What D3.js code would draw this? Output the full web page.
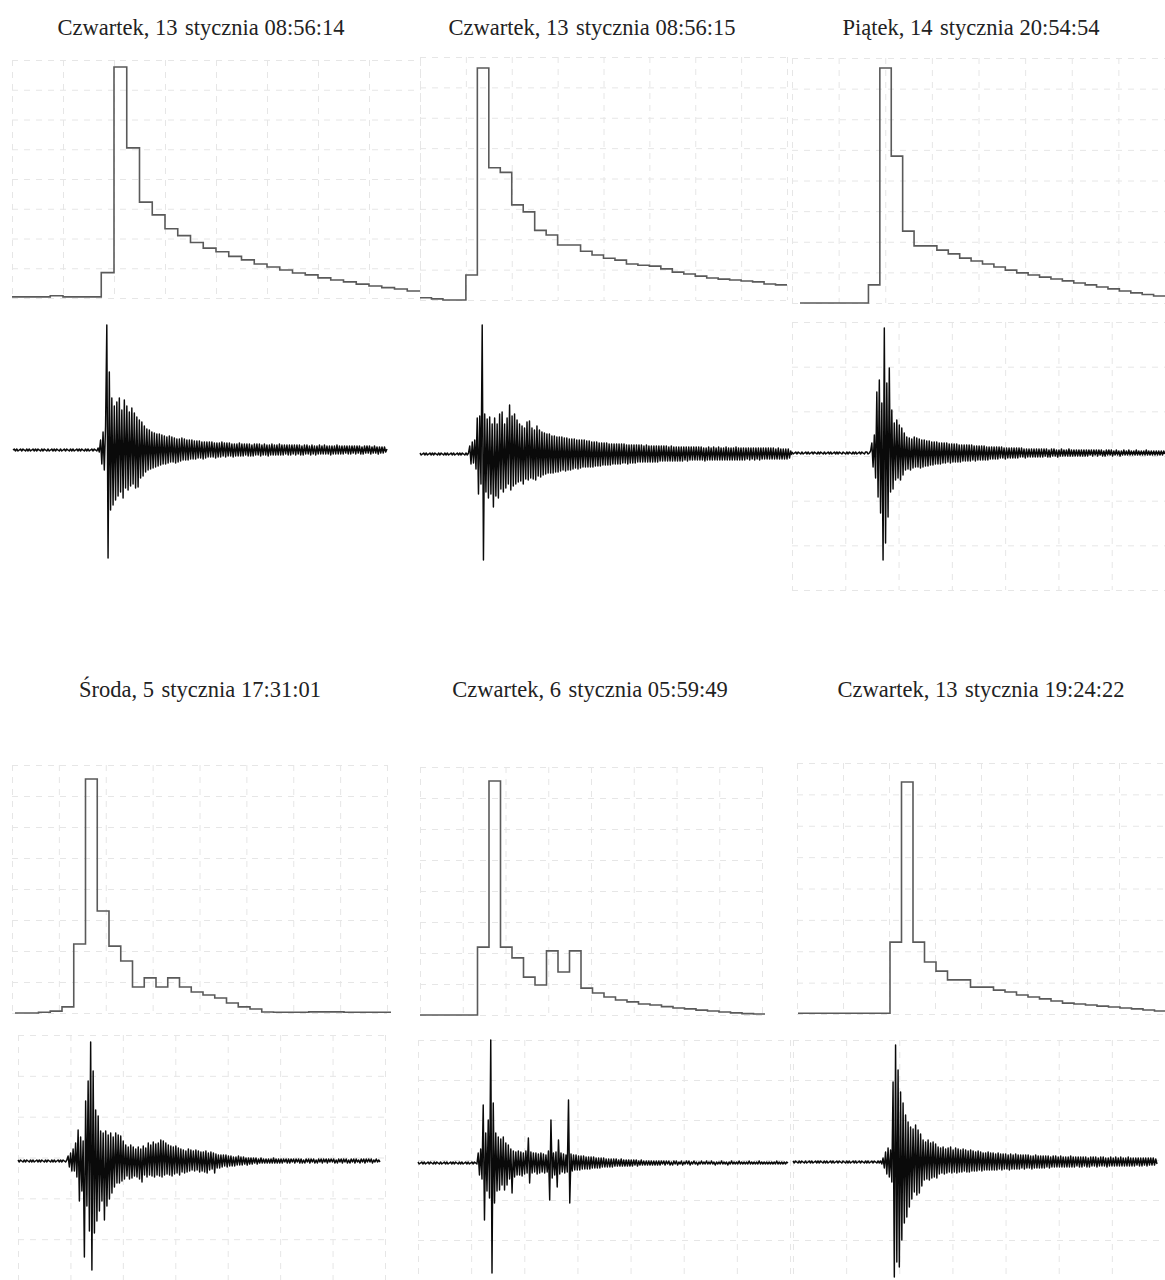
<!DOCTYPE html>
<html>
<head>
<meta charset="utf-8">
<script src="https://cdn.jsdelivr.net/npm/d3@7"></script>
<style>
  body { margin: 0; background: #fff; }
  svg { display: block; }
</style>
</head>
<body>
<div id="chart"></div>
<script>
// event titles
const titles = [
    "Czwartek, 13\u00a0\u200astycznia 08:56:14",
    "Czwartek, 13\u00a0\u200astycznia 08:56:15",
    "Piątek, 14\u00a0\u200astycznia 20:54:54",
    "Środa, 5\u00a0\u200astycznia 17:31:01",
    "Czwartek, 6\u00a0\u200astycznia 05:59:49",
    "Czwartek, 13\u00a0\u200astycznia 19:24:22"
];

// energy per time bin (peak = 100)
const hist1 = [0.5, 0.5, 0.5, 1, 0.5, 0.5, 0.5, 11, 100, 65, 41.5, 36, 30, 27, 24, 21.6,
    20, 18, 16.5, 14.7, 13.4, 12.1, 10.8, 10, 8.7, 7.8, 7, 6, 5.2, 4.5, 3.9, 3];
const hist2 = [1, 0.5, 0, 0, 10.8, 100, 57, 55, 41, 38, 30, 28, 23.7, 23.7, 21, 19.4,
    18, 17.2, 15.5, 15, 14.6, 13.4, 12, 11.2, 10.3, 9.5, 9, 8.6, 8.2, 7.8, 6.9, 6.5];
const hist3 = [0, 0, 0, 0, 0, 0, 7.7, 100, 62.5, 30.6, 24.3, 24.3, 22.5, 20.9, 19.1, 17.9,
    16.6, 15.3, 14, 12.8, 11.9, 11, 10.2, 9.4, 8.5, 7.7, 6.8, 6, 5.1, 4.3, 3.6, 3];
const hist4 = [0, 0, 0.3, 0.8, 2.6, 29.5, 100, 43.6, 28.6, 22.2, 11.1, 15, 11.1, 15, 11.1, 9,
    7.7, 6.4, 4.3, 2.6, 1.7, 0.4, 0.3, 0.3, 0.3, 0.5, 0.5, 0.5, 0.3, 0.3, 0.3, 0.3];
const hist5 = [0, 0, 0, 0, 0, 29, 100, 29, 24.4, 16.2, 12.8, 27.4, 18.4, 27.4, 11.5,
    9.4, 7.7, 6.4, 5.6, 4.7, 4.3, 3.6, 3, 2.6, 2.1, 1.7, 1.3, 0.9, 0.6, 0.4];
const hist6 = [0.3, 0.3, 0.3, 0.3, 0.3, 0.3, 0.3, 0.3, 31, 100, 31, 22.4, 18.5, 14.7, 14.7, 11.6,
    11.6, 10.3, 9.5, 8.2, 7.3, 6.5, 5.6, 4.7, 4.3, 3.9, 3.4, 3, 2.6, 2.2, 1.7, 1.3];

// seismogram samples (signed amplitude), 20 per row
const wave1 = [
    0, 1, -1, 1, -1, 0, 1, -1, 1, 0, -1, 1, -1, 1, -1, 0, 1, -1, 1, -1,
    1, 0, -1, 1, -1, 1, 0, -1, 1, -1, 0, 1, -1, 1, -1, 1, 0, -1, 1, -1,
    0, 1, -1, 1, 0, -1, 1, -1, 1, -1, 0, 1, -1, 1, -1, 1, 0, -1, 1, -1,
    1, -1, 0, 1, -1, 1, 0, -1, 2, -2, 10, -14, 18, -20, 24, 125, -108, 78, -60, 52,
    -55, 44, -50, 48, -46, 52, -42, 40, -48, 50, -38, 44, -40, 38, -36, 42, -34, 37, -38, 33,
    -37, 30, -28, 28, -26, 24, -22, 21, -20, 20, -19, 18, -18, 17, -17, 16, -16, 16, -15, 15,
    -14, 14, -14, 13, -13, 14, -12, 13, -12, 12, -13, 11, -12, 11, -11, 12, -10, 11, -10, 10,
    -10, 10, -9, 10, -9, 9, -9, 9, -8, 9, -8, 8, -9, 8, -8, 8, -7, 8, -7, 8,
    -7, 7, -8, 7, -7, 7, -7, 8, -6, 7, -7, 7, -6, 7, -6, 6, -7, 6, -6, 6,
    -6, 7, -6, 6, -6, 6, -5, 6, -6, 6, -6, 5, -6, 6, -5, 6, -5, 6, -6, 5,
    -5, 6, -5, 5, -6, 5, -5, 6, -5, 5, -5, 5, -5, 6, -5, 5, -5, 5, -4, 5,
    -5, 5, -5, 5, -4, 5, -5, 5, -4, 5, -5, 4, -5, 5, -4, 5, -4, 4, -5, 5,
    -4, 4, -5, 4, -4, 5, -4, 4, -4, 5, -4, 4, -4, 4, -5, 4, -4, 4, -4, 5,
    -4, 4, -4, 4, -4, 4, -3, 4, -4, 4, -4, 4, -3, 4, -4, 4, -3, 4, -4, 3,
    -4, 4, -3, 4, -3, 4, -4, 3, -3, 4, -3, 3, -4, 3, -3, 3, -3, 3, -2, 1
];
const wave2 = [
    1, -1, 0, 1, -1, 1, -1, 0, 1, -1, 1, -1, 1, 0, -1, 1, -1, 1, 0, -1,
    1, -1, 1, -1, 0, 1, -1, 1, -1, 0, 1, -1, 1, -1, 1, 0, -1, 1, -1, 1,
    8, -10, 12, -9, 14, -15, 36, -40, 38, -30, 129, -106, 40, -38, 35, -44, 37, -40, 30, -53,
    36, -42, 30, -44, 40, -35, 42, -38, 30, -34, 36, -30, 49, -36, 38, -32, 40, -30, 34, -28,
    30, -27, 28, -30, 26, -25, 32, -26, 33, -24, 26, -25, 24, -26, 28, -22, 24, -23, 22, -21,
    21, -20, 20, -19, 20, -19, 18, -19, 18, -18, 17, -18, 17, -17, 17, -16, 16, -17, 16, -16,
    15, -16, 15, -15, 15, -14, 14, -15, 14, -14, 14, -13, 14, -13, 13, -13, 13, -13, 12, -13,
    12, -12, 12, -12, 11, -12, 11, -11, 11, -11, 11, -11, 10, -11, 10, -10, 10, -10, 10, -10,
    10, -10, 10, -9, 10, -9, 9, -10, 9, -9, 9, -9, 9, -9, 9, -8, 9, -8, 9, -8,
    8, -8, 9, -8, 8, -8, 8, -8, 8, -8, 8, -8, 8, -7, 8, -7, 8, -7, 8, -7,
    7, -7, 8, -7, 7, -7, 7, -7, 7, -7, 7, -7, 7, -6, 7, -7, 7, -6, 7, -6,
    7, -6, 7, -6, 7, -6, 7, -6, 6, -7, 6, -6, 7, -6, 6, -6, 7, -6, 6, -6,
    7, -6, 6, -6, 6, -6, 7, -6, 6, -6, 6, -6, 6, -6, 7, -6, 6, -6, 6, -6,
    6, -6, 6, -5, 6, -6, 6, -5, 6, -6, 6, -5, 6, -6, 6, -5, 6, -5, 6, -5,
    6, -5, 6, -5, 6, -5, 5, -5, 6, -5, 5, -5, 5, -5, 5, -5, 5, -4, 3, -1
];
const wave3 = [
    1, -1, 0, 1, -1, 1, 0, -1, 1, -1, 0, 1, -1, 1, -1, 0, 1, -1, 1, 0,
    -1, 1, -1, 1, 0, -1, 1, -1, 0, 1, -1, 1, -1, 0, 1, -1, 1, -1, 1, 0,
    -1, 1, 0, -1, 1, -1, 1, 0, -1, 1, -1, 1, -1, 0, 1, -1, 1, 0, -1, 1,
    1, -1, 0, 2, 10, -14, 18, -25, 61, -44, 73, -60, 50, -107, 125, -90, 70, -64, 85, -39,
    43, -36, 30, -27, 33, -25, 28, -27, 25, -22, 20, -17, 16, -16, 15, -17, 14, -15, 16, -14,
    15, -14, 14, -15, 13, -14, 13, -13, 12, -13, 12, -12, 11, -12, 11, -11, 11, -11, 10, -11,
    10, -10, 10, -10, 10, -9, 9, -10, 9, -9, 9, -9, 9, -9, 8, -9, 8, -8, 8, -8,
    8, -8, 8, -8, 8, -7, 7, -8, 7, -7, 7, -7, 7, -7, 7, -7, 6, -7, 6, -6,
    6, -6, 6, -6, 6, -6, 6, -5, 6, -5, 5, -6, 5, -5, 5, -5, 5, -5, 5, -5,
    5, -5, 5, -4, 5, -4, 4, -5, 4, -4, 4, -4, 4, -4, 4, -4, 4, -4, 4, -4,
    4, -4, 4, -3, 4, -4, 3, -4, 4, -3, 4, -3, 3, -4, 3, -3, 4, -3, 3, -3,
    3, -3, 4, -3, 3, -3, 3, -3, 3, -3, 3, -3, 3, -3, 3, -3, 3, -3, 3, -2,
    3, -3, 3, -2, 3, -3, 3, -2, 3, -3, 2, -3, 3, -2, 3, -2, 3, -3, 2, -2,
    3, -2, 2, -3, 2, -2, 3, -2, 2, -2, 3, -2, 2, -2, 2, -2, 3, -2, 2, -2,
    2, -2, 2, -2, 3, -2, 2, -2, 2, -2, 2, -2, 2, -2, 2, -2, 2, -2, 2, -1
];
const wave4 = [
    1, -1, 1, 0, -1, 1, -1, 1, 0, -1, 1, -1, 1, -1, 0, 1, -1, 1, -1, 1,
    0, -1, 1, -1, 1, 0, -1, 1, -1, 1, -1, 0, 1, -1, 1, -1, 1, 0, -1, 1,
    5, -6, 8, -10, 12, -10, 18, -16, 31, -40, 24, -30, 20, -96, 60, -45, 80, -70, 119, -109,
    90, -72, 51, -60, 45, -50, 30, -40, 28, -59, 30, -45, 26, -38, 28, -32, 24, -26, 28, -22,
    26, -22, 25, -20, 20, -18, 16, -15, 14, -18, 16, -17, 14, -15, 12, -16, 14, -18, 12, -21,
    15, -14, 13, -16, 18, -14, 16, -15, 19, -16, 17, -14, 18, -15, 21, -16, 20, -14, 18, -13,
    16, -14, 15, -15, 14, -13, 15, -12, 13, -14, 12, -11, 11, -12, 10, -11, 12, -10, 11, -9,
    10, -10, 11, -9, 10, -11, 9, -10, 9, -11, 10, -12, 8, -9, 9, -8, 8, -12, 7, -7,
    6, -7, 6, -6, 6, -5, 6, -6, 5, -5, 5, -5, 4, -5, 4, -4, 5, -4, 4, -4,
    4, -3, 3, -4, 3, -3, 3, -3, 3, -2, 3, -3, 2, -2, 3, -2, 2, -2, 2, -2,
    2, -2, 2, -2, 3, -2, 2, -2, 2, -2, 2, -2, 2, -1, 2, -2, 2, -2, 2, -1,
    2, -2, 2, -1, 2, -2, 2, -2, 1, -2, 2, -1, 2, -2, 2, -1, 2, -2, 1, -2,
    2, -1, 2, -2, 2, -1, 2, -2, 2, -1, 2, -1, 2, -2, 1, -2, 2, -1, 2, -2,
    2, -1, 2, -2, 1, -2, 2, -1, 2, -2, 2, -1, 1, -2, 2, -1, 2, -2, 2, -1,
    2, -1, 2, -2, 1, -1, 2, -1, 1, -1
];
const wave5 = [
    1, -1, 0, 1, -1, 1, -1, 0, 1, -1, 1, 0, -1, 1, -1, 1, 0, -1, 1, -1,
    0, 1, -1, 1, -1, 0, 1, -1, 1, -1, 1, 0, -1, 1, -1, 1, -1, 0, 1, -1,
    1, -1, 0, 1, -1, 1, 0, -1, 10, -12, 14, -16, 58, -57, 30, -28, 43, -35, 123, -110,
    60, -40, 30, -28, 26, -27, 24, -22, 26, -27, 20, -22, 18, -16, 14, -30, 12, -14, 11, -12,
    12, -12, 11, -13, 10, -11, 12, -10, 25, -20, 11, -10, 10, -9, 10, -11, 9, -10, 10, -9,
    9, -10, 8, -9, 12, -37, 43, -15, 10, -12, 11, -24, 23, -11, 10, -9, 9, -10, 8, -9,
    63, -40, 9, -8, 8, -7, 8, -7, 7, -7, 7, -6, 7, -6, 6, -6, 6, -6, 6, -5,
    6, -5, 5, -5, 5, -5, 5, -4, 5, -4, 4, -4, 4, -4, 4, -4, 4, -3, 4, -3,
    3, -3, 4, -3, 3, -3, 3, -3, 3, -3, 3, -3, 3, -2, 3, -3, 2, -2, 3, -2,
    2, -2, 2, -2, 2, -2, 2, -2, 2, -2, 2, -2, 2, -2, 2, -1, 2, -2, 2, -1,
    2, -2, 1, -2, 2, -1, 2, -2, 1, -1, 2, -2, 1, -1, 2, -1, 2, -2, 1, -1,
    2, -1, 1, -2, 1, -1, 2, -1, 1, -1, 2, -1, 1, -1, 2, -1, 1, -2, 1, -1,
    1, -1, 2, -1, 1, -1, 1, -2, 1, -1, 2, -1, 1, -1, 1, -1, 2, -1, 1, -1,
    1, -1, 1, -1, 2, -1, 1, -1, 1, -1, 1, -1, 2, -1, 1, -1, 1, -1, 1, -1,
    1, -1, 1, -1, 1, -1, 2, -1, 1, -1, 1, -1, 1, -1, 1, 0
];
const wave6 = [
    1, -1, 1, 0, -1, 1, -1, 1, 0, -1, 1, -1, 0, 1, -1, 1, -1, 0, 1, -1,
    1, -1, 1, 0, -1, 1, -1, 1, -1, 0, 1, -1, 1, -1, 0, 1, -1, 1, 0, -1,
    1, 0, -1, 1, -1, 1, -1, 0, 1, -1, 1, -1, 0, 1, -1, 1, 0, -1, 1, -1,
    1, -1, 0, 1, -1, 1, 0, -1, 1, -1, 1, -2, 4, -6, 10, -12, 14, -15, 12, -20,
    80, -115, 117, -100, 92, -105, 70, -78, 59, -61, 47, -55, 40, -45, 35, -37, 33, -30, 37, -33,
    32, -31, 28, -24, 22, -18, 20, -17, 22, -18, 19, -16, 20, -15, 18, -16, 15, -12, 14, -11,
    15, -12, 13, -11, 14, -10, 15, -11, 12, -10, 14, -11, 13, -10, 12, -10, 13, -9, 12, -10,
    11, -10, 12, -9, 11, -9, 10, -9, 11, -8, 10, -9, 9, -8, 9, -8, 10, -8, 9, -8,
    9, -8, 8, -8, 9, -7, 8, -8, 8, -7, 8, -7, 7, -8, 8, -7, 7, -7, 8, -7,
    7, -7, 7, -6, 7, -7, 7, -6, 7, -6, 6, -7, 6, -6, 7, -6, 6, -6, 6, -6,
    6, -6, 6, -5, 6, -6, 5, -5, 6, -5, 6, -5, 5, -5, 6, -5, 5, -5, 5, -5,
    5, -5, 6, -5, 5, -5, 5, -4, 5, -5, 5, -5, 5, -4, 5, -5, 4, -5, 5, -4,
    5, -4, 5, -5, 4, -4, 5, -4, 5, -4, 4, -5, 4, -4, 5, -4, 4, -4, 5, -4,
    4, -4, 5, -4, 4, -4, 4, -4, 5, -4, 4, -4, 4, -4, 4, -3, 4, -4, 4, -4,
    4, -3, 4, -4, 4, -3, 4, -3, 4, -3, 3, -2
];

const hists = [hist1, hist2, hist3, hist4, hist5, hist6];
const waves = [wave1, wave2, wave3, wave4, wave5, wave6];

// page layout of the six panels
const layout = [
    {tx: 201, ty: 35,  hx: [12, 420],  hBase: 298,  hPeak: 231, hTop: 60,
     wx: [13, 387],  wMid: 450,  wGrid: null},
    {tx: 592, ty: 35,  hx: [420, 787], hBase: 300,  hPeak: 232, hTop: 57,
     wx: [420, 792], wMid: 454,  wGrid: null},
    {tx: 971, ty: 35,  hx: [800, 1165], hBase: 303, hPeak: 235, hTop: 58, hGridX: [792, 1165],
     wx: [792, 1165], wMid: 453, wGrid: {x: [792, 1165], y: [322, 590]}},
    {tx: 200, ty: 697, hx: [15, 391],  hBase: 1013, hPeak: 234, hTop: 765, hGridX: [12, 387],
     wx: [18, 380],  wMid: 1161, wGrid: {x: [18, 385], y: [1035, 1280]}},
    {tx: 590, ty: 697, hx: [420, 765], hBase: 1015, hPeak: 234, hTop: 767, hGridX: [420, 762],
     wx: [418, 788], wMid: 1163, wGrid: {x: [418, 790], y: [1040, 1280]}},
    {tx: 981, ty: 697, hx: [798, 1166], hBase: 1014, hPeak: 232, hTop: 763, hGridX: [797, 1165],
     wx: [793, 1157], wMid: 1162, wGrid: {x: [793, 1165], y: [1040, 1280]}}
];

const svg = d3.select("#chart")
    .append("svg")
    .attr("width", 1165)
    .attr("height", 1280);

class EventPanel {
    constructor(_config, _title, _hist, _wave) {
        this.config = _config;
        this.title = _title;
        this.hist = _hist;
        this.wave = _wave;
        this.initVis();
    }

    initVis() {
        let vis = this;
        let c = vis.config;

        vis.g = svg.append("g");

        // bins -> x, energy -> y
        vis.binX = d3.scaleLinear().domain([0, vis.hist.length]).range(c.hx);
        vis.histY = d3.scaleLinear().domain([0, 100]).range([c.hBase, c.hBase - c.hPeak]);

        // samples -> x, amplitude -> y
        vis.waveX = d3.scaleLinear().domain([0, vis.wave.length - 1]).range(c.wx);
        vis.waveY = d3.scaleLinear().domain([-130, 130]).range([c.wMid + 130, c.wMid - 130]);

        vis.renderVis();
    }

    drawGrid(xr, yr, nx, ny) {
        let vis = this;
        let gx = d3.scaleLinear().domain([0, nx]).range(xr);
        let gy = d3.scaleLinear().domain([0, ny]).range(yr);

        let grid = vis.g.append("g").attr("class", "grid");

        grid.append("g")
            .attr("transform", `translate(${xr[0]},0)`)
            .call(d3.axisLeft(gy).ticks(ny).tickSize(-(xr[1] - xr[0])).tickFormat(""));
        grid.append("g")
            .attr("transform", `translate(0,${yr[0]})`)
            .call(d3.axisBottom(gx).ticks(nx).tickSize(yr[1] - yr[0]).tickFormat(""));

        grid.selectAll(".domain").remove();
        grid.selectAll("line")
            .attr("stroke", "#e6e6e6")
            .attr("stroke-width", 1)
            .attr("stroke-dasharray", "6,6");
    }

    renderVis() {
        let vis = this;
        let c = vis.config;

        // grids first so the traces sit on top
        vis.drawGrid(c.hGridX || c.hx, [c.hTop, c.hBase], 8, 8);
        if (c.wGrid) vis.drawGrid(c.wGrid.x, c.wGrid.y, 7, 6);

        vis.g.append("text")
            .attr("x", c.tx)
            .attr("y", c.ty)
            .attr("text-anchor", "middle")
            .attr("font-family", "'Liberation Serif', 'Times New Roman', serif")
            .attr("font-size", 22.5)
            .attr("fill", "#222")
            .text(vis.title);

        // step envelope
        let pts = vis.hist.map((v, i) => [i, v]);
        pts.push([vis.hist.length, vis.hist[vis.hist.length - 1]]);

        let step = d3.line()
            .x(d => vis.binX(d[0]))
            .y(d => vis.histY(d[1]))
            .curve(d3.curveStepAfter);

        vis.g.append("path")
            .attr("class", "hist-line")
            .attr("fill", "none")
            .attr("stroke", "#5a5a5a")
            .attr("stroke-width", 1.6)
            .attr("d", step(pts));

        // seismogram trace
        let trace = d3.line()
            .x((d, i) => vis.waveX(i))
            .y(d => vis.waveY(d));

        vis.g.append("path")
            .attr("class", "wave-line")
            .attr("fill", "none")
            .attr("stroke", "#0a0a0a")
            .attr("stroke-width", 1.45)
            .attr("stroke-linejoin", "round")
            .attr("d", trace(vis.wave));
    }
}

layout.forEach((cfg, i) => new EventPanel(cfg, titles[i], hists[i], waves[i]));
</script>
</body>
</html>
